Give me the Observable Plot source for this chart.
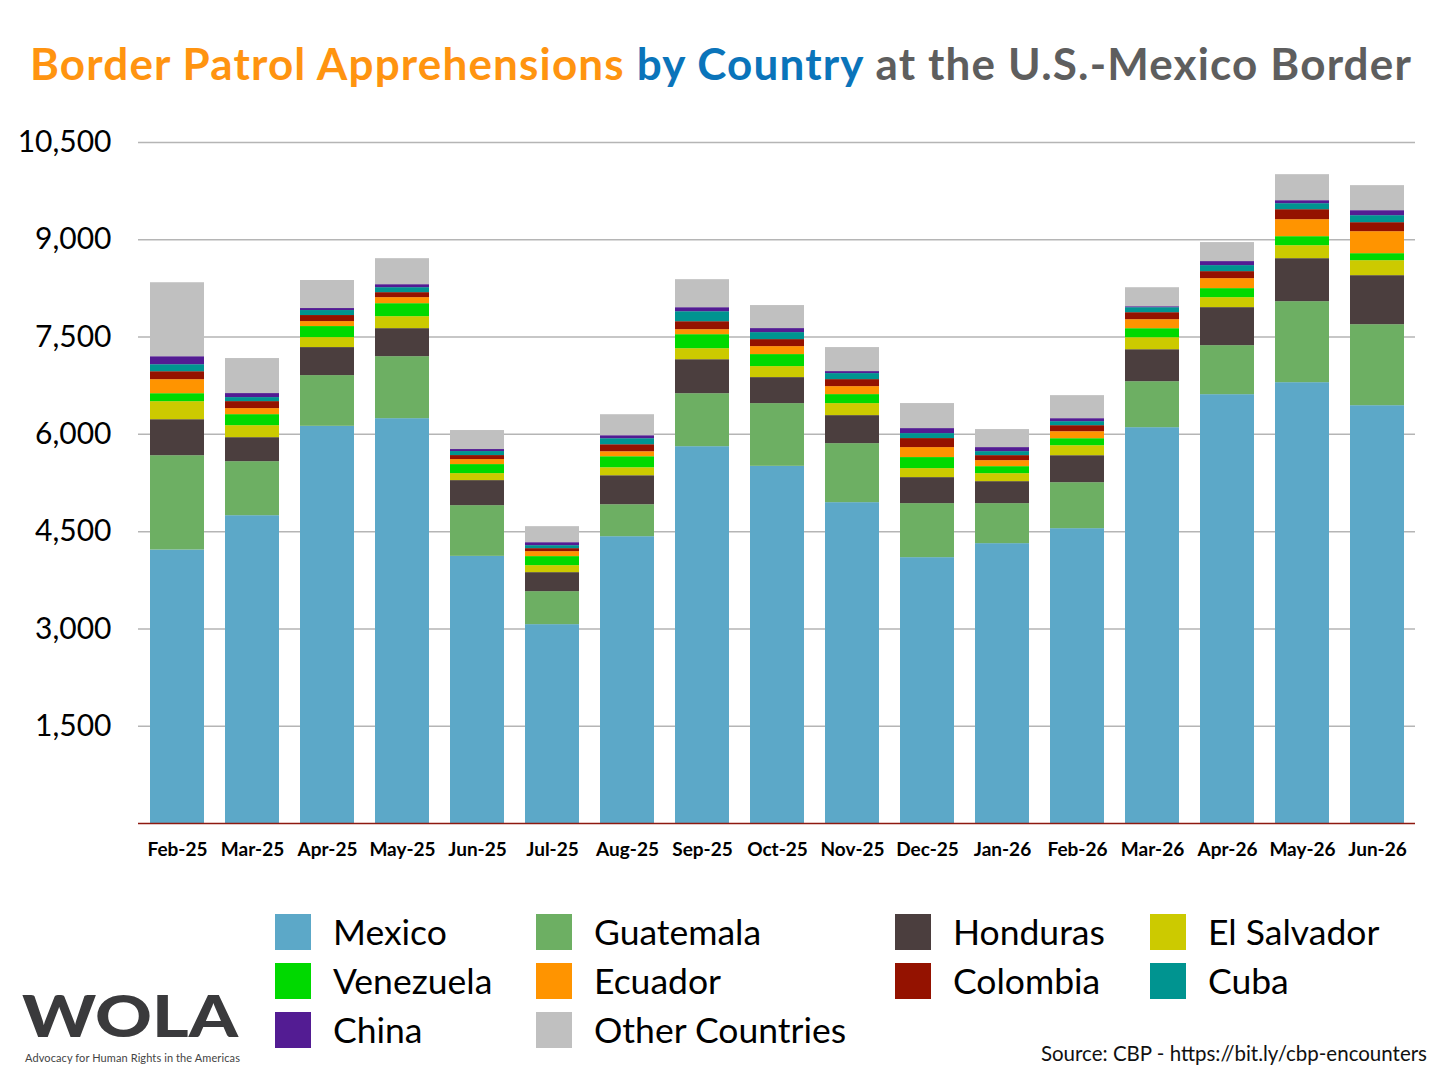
<!DOCTYPE html>
<html>
<head>
<meta charset="utf-8">
<script src="https://cdn.jsdelivr.net/npm/d3@7"></script>
<script src="https://cdn.jsdelivr.net/npm/@observablehq/plot@0.6"></script>
<style>
  html, body { margin: 0; padding: 0; background: #fff; }
  body { width: 1440px; height: 1080px; position: relative; overflow: hidden; font-family: Lato, "Open Sans", sans-serif; }
  #title { position: absolute; left: 30px; top: 41px; font-size: 44px; line-height: 1; font-weight: 700; white-space: nowrap; }
  #chart { position: absolute; left: 0; top: 120px; }
  .leg { position: absolute; display: flex; align-items: center; height: 36px; }
  .leg .sw { width: 36px; height: 36px; margin-right: 22px; flex: none; }
  .leg .lb { font-size: 35.5px; line-height: 1; color: #000; white-space: nowrap; }
  #source { position: absolute; right: 13px; top: 1043px; font-size: 20.5px; line-height: 1; color: #111; white-space: nowrap; }
  #logo { position: absolute; left: 22px; top: 992px; font-size: 58px; line-height: 0.8; font-weight: 900; color: #3a3a3c; white-space: nowrap; transform-origin: 0 0; }
  #tag { position: absolute; left: 25px; top: 1052px; font-size: 11px; line-height: 1; color: #444; white-space: nowrap; }
</style>
</head>
<body>
<div id="title"><span style="color:#FF9410">Border Patrol Apprehensions</span> <span style="color:#0A74BA">by Country</span> <span style="color:#5E5E5E">at the U.S.-Mexico Border</span></div>
<div id="chart"></div>
<div id="legend"></div>
<div id="source">Source: CBP - https://bit.ly/cbp-encounters</div>
<div id="logo">WOLA</div>
<div id="tag">Advocacy for Human Rights in the Americas</div>
<script>
const months = ["Feb-25","Mar-25","Apr-25","May-25","Jun-25","Jul-25","Aug-25","Sep-25","Oct-25","Nov-25","Dec-25","Jan-26","Feb-26","Mar-26","Apr-26","May-26","Jun-26"];
const countries = ["Mexico","Guatemala","Honduras","El Salvador","Venezuela","Ecuador","Colombia","Cuba","China","Other Countries"];
const colors = ["#5CA8C8","#6DAF63","#4B3E3E","#CCCA00","#00D900","#FF9400","#941200","#009490","#531C93","#C0C0C0"];

const mexico     = [4217, 4746, 6124, 6242, 4119, 3066, 4422, 5810, 5507, 4947, 4099, 4315, 4546, 6103, 6612, 6797, 6442];
const guatemala  = [1454, 833, 782, 956, 782, 509, 493, 817, 967, 910, 833, 617, 709, 709, 756, 1249, 1249];
const honduras   = [555, 370, 432, 432, 386, 293, 447, 524, 401, 432, 401, 339, 416, 493, 586, 663, 756];
const elSalvador = [278, 185, 154, 185, 108, 108, 123, 170, 170, 185, 139, 123, 154, 185, 154, 200, 231];
const venezuela  = [123, 170, 170, 200, 139, 139, 170, 216, 185, 139, 170, 108, 108, 139, 139, 139, 108];
const ecuador    = [216, 93, 77, 93, 77, 77, 77, 77, 123, 123, 154, 93, 108, 139, 154, 262, 339];
const colombia   = [123, 108, 93, 77, 62, 46, 108, 123, 108, 108, 139, 77, 93, 108, 108, 154, 139];
const cuba       = [108, 62, 77, 77, 62, 46, 93, 154, 108, 93, 77, 62, 62, 77, 93, 93, 108];
const china      = [123, 62, 31, 46, 31, 46, 46, 62, 62, 31, 77, 62, 46, 15, 62, 46, 77];
const other      = [1141, 540, 432, 401, 293, 247, 324, 432, 355, 370, 386, 278, 355, 293, 293, 401, 386];

const yTicks = [1500, 3000, 4500, 6000, 7500, 9000, 10500];

const series = [mexico, guatemala, honduras, elSalvador, venezuela, ecuador, colombia, cuba, china, other];
const data = [];
countries.forEach((c, i) => months.forEach((m, j) => data.push({month: m, country: c, value: series[i][j]})));

const chart = Plot.plot({
  width: 1440,
  height: 760,
  marginTop: 22,
  marginBottom: 57,
  marginLeft: 138,
  marginRight: 25,
  style: {fontFamily: "Lato, 'Open Sans', sans-serif", background: "transparent"},
  x: {type: "band", domain: months, paddingInner: 0.28, paddingOuter: 0.153, label: null},
  y: {domain: [0, 10500], label: null},
  color: {domain: countries, range: colors},
  marks: [
    Plot.gridY(yTicks, {stroke: "#b5b5b5", strokeOpacity: 1, strokeWidth: 1.5}),
    Plot.barY(data, {x: "month", y: "value", fill: "country", order: countries}),
    Plot.ruleY([0], {stroke: "#8E1A10", strokeWidth: 1.5}),
    Plot.axisY(yTicks, {tickSize: 0, tickPadding: 27, fontSize: 30, fill: "#000", tickFormat: d3.format(","), label: null}),
    Plot.axisX({tickSize: 0, tickPadding: 19, fontSize: 19, fontWeight: "bold", fill: "#000", label: null})
  ]
});
document.getElementById("chart").appendChild(chart);

// legend
const colX = [275, 536, 895, 1150];
const rowY = [932, 981, 1030];
const legend = document.getElementById("legend");
countries.forEach((c, i) => {
  const r = Math.floor(i / 4), k = i % 4;
  const d = document.createElement("div");
  d.className = "leg";
  d.style.left = colX[k] + "px";
  d.style.top = (rowY[r] - 18) + "px";
  d.innerHTML = `<div class="sw" style="background:${colors[i]}"></div><div class="lb">${c}</div>`;
  legend.appendChild(d);
});

function fitWidth(el, target) {
  const w = el.getBoundingClientRect().width;
  const n = el.textContent.length;
  el.style.letterSpacing = ((target - w) / n) + "px";
}
function fitScale(el, target) {
  const w = el.getBoundingClientRect().width;
  el.style.transform = `scaleX(${target / w})`;
}
fitWidth(document.getElementById("title"), 1382);
fitScale(document.getElementById("logo"), 216);
fitWidth(document.getElementById("tag"), 215);
</script>
</body>
</html>
